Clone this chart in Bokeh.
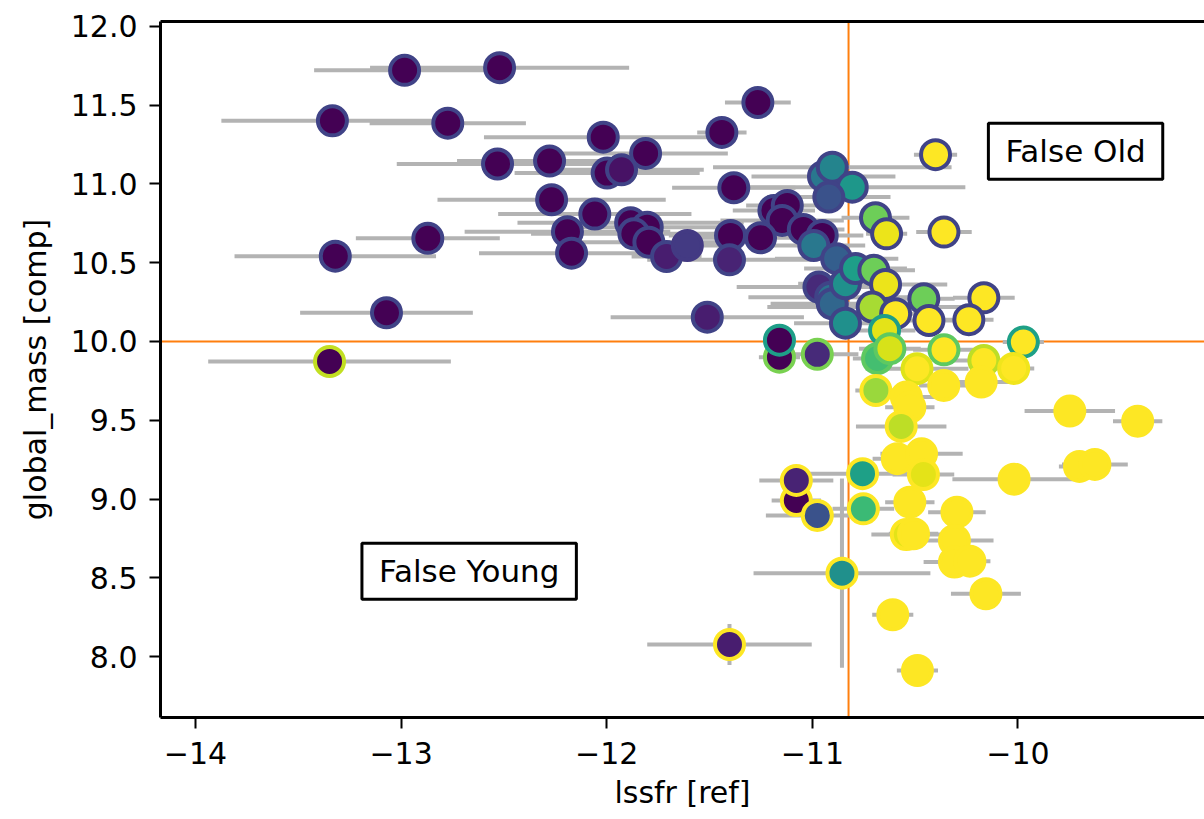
import numpy as np
from bokeh.plotting import figure
from bokeh.models import (Span, Label, FixedTicker, ColumnDataSource,
                          NumeralTickFormatter, LinearAxis)
from bokeh.transform import linear_cmap
from bokeh.palettes import Viridis256
from bokeh.embed import file_html
from bokeh.resources import INLINE

# ---------------- data ----------------
x_vals = [
    -12.983, -12.521, -13.334, -12.773, -12.017, -11.811, -12.531, -12.278, -11.998, -11.928,
    -12.268, -12.058, -12.191, -12.171, -11.884, -11.803, -11.868, -11.795, -11.709, -12.870,
    -13.320, -13.071, -13.348, -11.265, -11.440, -11.382, -11.187, -11.122, -11.147, -11.044,
    -11.398, -11.252, -11.608, -11.403, -10.952, -10.993, -10.946, -10.903, -10.806, -10.920,
    -10.882, -10.968, -10.911, -10.903, -10.839, -10.790, -10.701, -10.644, -10.693, -10.639,
    -10.360, -10.401, -10.709, -10.595, -10.458, -10.433, -10.166, -10.239, -10.839, -11.511,
    -10.649, -11.160, -11.160, -10.976, -9.974, -10.683, -10.623, -10.360, -10.166, -10.021,
    -10.491,
    -10.691, -10.543, -10.526, -10.361, -10.179, -9.748, -9.418, -10.568, -10.587, -10.469,
    -10.460, -10.756, -10.752, -11.078, -11.078, -10.976, -10.019, -9.701, -9.626, -10.526,
    -10.297, -10.543, -10.508, -10.309, -10.309, -10.234, -10.856, -10.156, -10.609, -11.403,
    -10.489,
]
y_vals = [
    11.720, 11.737, 11.400, 11.385, 11.296, 11.193, 11.126, 11.145, 11.068, 11.089,
    10.899, 10.808, 10.696, 10.560, 10.753, 10.725, 10.683, 10.630, 10.539, 10.654,
    10.541, 10.182, 9.873, 11.516, 11.326, 10.975, 10.831, 10.863, 10.768, 10.711,
    10.673, 10.658, 10.609, 10.518, 10.673, 10.609, 11.047, 11.106, 10.979, 10.916,
    10.525, 10.345, 10.281, 10.239, 10.366, 10.463, 10.451, 10.362, 10.785, 10.683,
    10.694, 11.185, 10.218, 10.176, 10.271, 10.133, 10.277, 10.138, 10.116, 10.154,
    10.070, 9.900, 10.008, 9.918, 9.996, 9.892, 9.954, 9.947, 9.879, 9.829,
    9.827,
    9.689, 9.647, 9.583, 9.721, 9.742, 9.558, 9.494, 9.461, 9.256, 9.287,
    9.156, 9.161, 8.938, 8.991, 9.118, 8.896, 9.126, 9.207, 9.220, 8.980,
    8.917, 8.775, 8.780, 8.737, 8.600, 8.606, 8.530, 8.399, 8.266, 8.077,
    7.912,
]
x_errs = [
    0.44, 0.63, 0.54, 0.38, 0.58, 0.40, 0.49, 0.45, 0.45, 0.40,
    0.555, 0.47, 0.50, 0.45, 0.55, 0.45, 0.50, 0.40, 0.17, 0.35,
    0.49, 0.42, 0.59, 0.16, 0.12, 0.30, 0.20, 0.20, 0.30, 0.20,
    0.30, 0.30, 0.20, 0.40, 0.20, 0.25, 0.35, 0.58, 0.55, 0.30,
    0.30, 0.40, 0.40, 0.30, 0.23, 0.25, 0.20, 0.30, 0.165, 0.10,
    0.135, 0.105, 0.51, 0.20, 0.15, 0.15, 0.15, 0.12, 0.25, 0.47,
    0.15, 0.10, 0.08, 0.20, 0.10, 0.12, 0.15, 0.15, 0.20, 0.10,
    0.25,
    0.10, 0.15, 0.12, 0.12, 0.15, 0.22, 0.12, 0.22, 0.12, 0.20,
    0.15, 0.30, 0.15, 0.12, 0.18, 0.25, 0.30, 0.10, 0.16, 0.12,
    0.14, 0.17, 0.12, 0.19, 0.15, 0.10, 0.43, 0.17, 0.10, 0.40,
    0.10,
]
y_errs = [0.05] * 71 + [
    0.05, 0.05, 0.05, 0.05, 0.05, 0.05, 0.05, 0.05, 0.05, 0.05,
    0.05, 0.05, 0.05, 0.05, 0.05, 0.05, 0.05, 0.05, 0.05, 0.05,
    0.05, 0.05, 0.05, 0.05, 0.05, 0.05, 0.60, 0.05, 0.05, 0.13,
    0.10,
]
# colour-map values (0..1 on viridis) for marker face and marker edge
fill_vals = [
    0.0, 0.0, 0.0, 0.0, 0.0, 0.0, 0.0, 0.0, 0.0, 0.05,
    0.0, 0.0, 0.0, 0.0, 0.0, 0.0, 0.0, 0.0, 0.08, 0.0,
    0.0, 0.0, 0.0, 0.0, 0.0, 0.0, 0.0, 0.0, 0.0, 0.0,
    0.0, 0.0, 0.17, 0.10, 0.0, 0.40, 0.40, 0.45, 0.53, 0.25,
    0.30, 0.12, 0.37, 0.33, 0.50, 0.56, 0.78, 0.97, 0.78, 0.97,
    1.0, 1.0, 0.87, 1.0, 0.78, 1.0, 1.0, 1.0, 0.50, 0.08,
    0.96, 0.0, 0.0, 0.12, 1.0, 0.70, 0.94, 1.0, 1.0, 1.0,
    1.0,
    0.85, 1.0, 1.0, 1.0, 1.0, 1.0, 1.0, 0.90, 1.0, 1.0,
    0.96, 0.57, 0.68, 0.0, 0.10, 0.25, 1.0, 1.0, 1.0, 1.0,
    1.0, 0.96, 1.0, 1.0, 1.0, 1.0, 0.50, 1.0, 1.0, 0.08,
    1.0,
]
edge_vals = [0.2] * 22 + [0.91] + [0.2] * 9 + [0.17] + [0.2] * 27 + [
    0.56, 0.80, 0.56, 0.80, 0.57, 0.75, 0.75, 0.75, 0.90, 0.98,
    0.95,
] + [1.0] * 31

x_ticks = [-14, -13, -12, -11, -10]
x_tick_labels = ["\u221214", "\u221213", "\u221212", "\u221211", "\u221210"]
y_ticks = [8.0, 8.5, 9.0, 9.5, 10.0, 10.5, 11.0, 11.5, 12.0]
x_cut = -10.824
y_cut = 10.0
x_label = "lssfr [ref]"
y_label = "global_mass [comp]"
notes = ["False Old", "False Young"]
note_x = [-9.72, -12.669]
note_y = [11.206, 8.542]

# ---------------- figure ----------------
FONT = "DejaVu Sans"
p = figure(frame_width=1044, frame_height=696,
           x_range=(-14.17, -9.093), y_range=(7.614, 12.03),
           output_backend="svg", toolbar_location=None,
           min_border_left=160, min_border_right=0,
           min_border_top=21, min_border_bottom=102)
p.background_fill_color = "white"
p.border_fill_color = "white"
p.outline_line_color = None
p.grid.visible = False

# top spine only (the reference is cropped on the right)
top = LinearAxis(ticker=FixedTicker(ticks=[]), axis_line_width=3,
                 axis_line_color="black", major_tick_out=0, major_tick_in=0,
                 minor_tick_out=0, minor_tick_in=0, major_label_standoff=0)
p.add_layout(top, "above")

for v, dim in ((x_cut, "height"), (y_cut, "width")):
    p.add_layout(Span(location=v, dimension=dim, line_color="#ff7f0e",
                      line_width=2, level="underlay"))

xa = np.array(x_vals); ya = np.array(y_vals)
xe = np.array(x_errs); ye = np.array(y_errs)
src = ColumnDataSource(dict(
    x=xa, y=ya, x0=xa - xe, x1=xa + xe, y0=ya - ye, y1=ya + ye,
    fv=fill_vals, ev=edge_vals))

p.segment(x0="x0", y0="y", x1="x1", y1="y", source=src,
          line_color="#b3b3b3", line_width=4)
p.segment(x0="x", y0="y0", x1="x", y1="y1", source=src,
          line_color="#b3b3b3", line_width=4)
p.scatter(x="x", y="y", source=src, size=29, line_width=4,
          fill_color=linear_cmap("fv", Viridis256, 0, 1),
          line_color=linear_cmap("ev", Viridis256, 0, 1))

for t, lx, ly in zip(notes, note_x, note_y):
    p.add_layout(Label(x=lx, y=ly, text=t, text_align="center",
                       text_baseline="middle", text_font=FONT,
                       text_font_size="31px", text_color="black",
                       background_fill_color="white",
                       border_line_color="black", border_line_width=3,
                       padding=dict(left=17, right=17, top=10, bottom=10)))

xax = p.below[0]
yax = p.left[0]
xax.ticker = FixedTicker(ticks=x_ticks)
xax.major_label_overrides = {k: v for k, v in zip(x_ticks, x_tick_labels)}
yax.ticker = FixedTicker(ticks=y_ticks)
yax.formatter = NumeralTickFormatter(format="0.0")
xax.axis_label = x_label
yax.axis_label = y_label
for ax in (xax, yax):
    ax.axis_line_width = 3
    ax.axis_line_color = "black"
    ax.major_tick_line_width = 2
    ax.major_tick_out = 11
    ax.major_tick_in = 0
    ax.minor_tick_line_color = None
    ax.major_label_text_font = FONT
    ax.major_label_text_font_size = "30px"
    ax.major_label_text_color = "black"
    ax.axis_label_text_font = FONT
    ax.axis_label_text_font_size = "30px"
    ax.axis_label_text_font_style = "normal"
    ax.axis_label_text_color = "black"
xax.major_label_standoff = 13
yax.major_label_standoff = 12
xax.axis_label_standoff = 8
yax.axis_label_standoff = 15

open("out.html", "w").write(file_html(p, INLINE))
